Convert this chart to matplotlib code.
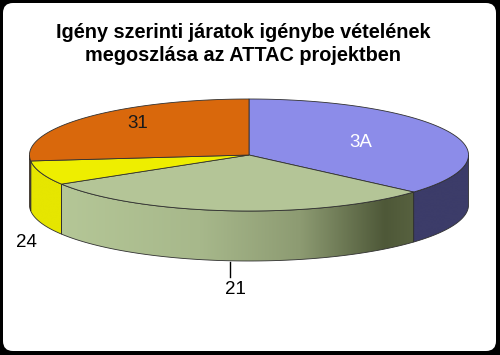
import numpy as np
import matplotlib
matplotlib.use("Agg")
import matplotlib.pyplot as plt
from matplotlib.patches import Polygon, FancyBboxPatch
from matplotlib.colors import to_rgb

# ---- data ----
categories = ["3A", "21", "24", "31"]
values = [36.5, 29.8, 7.0, 26.7]
title = "Igény szerinti járatok igénybe vételének\nmegoszlása az ATTAC projektben"

# ---- style ----
top_colors = ["#8C8CE9", "#B4C597", "#EEEE00", "#D9680C"]
side_stops = [
    [(0, "#3C3C69"), (500, "#3C3C69")],
    [(58, "#B5C797"), (200, "#A7B88B"), (300, "#8D9B72"), (385, "#4E5838"), (413, "#57613F")],
    [(0, "#E6E600"), (500, "#E6E600")],
    [(0, "#B85A0A"), (500, "#B85A0A")],
]
label_colors = ["white", "black", "black", "#1a1a1a"]
label_r = [0.56, None, 1.07, 0.68]
label_off = [0, None, 68, -6]

W, H = 500, 355
fig = plt.figure(figsize=(W / 100, H / 100), dpi=100)
fig.patch.set_facecolor("black")
ax = fig.add_axes([0, 0, 1, 1])
ax.set_xlim(0, W)
ax.set_ylim(H, 0)
ax.axis("off")

ax.add_patch(FancyBboxPatch((3 + 10, 3 + 10), 493 - 20, 348 - 20,
                            boxstyle="round,pad=10", fc="white", ec="none", zorder=0))

plt.rcParams["font.family"] = ["Liberation Sans", "DejaVu Sans"]
ax.text(243, 44, title, ha="center", va="center", fontsize=14.3, fontweight="bold",
        linespacing=1.22, color="black", zorder=5)

cx, cy, a, b, d = 249, 155, 219.5, 56, 50


def pt(t, dy=0.0):
    r = np.radians(t)
    return cx + a * np.cos(r), cy - b * np.sin(r) + dy


def color_at(stops, x):
    xs = [s[0] for s in stops]
    cols = np.array([to_rgb(s[1]) for s in stops])
    return np.stack([np.interp(x, xs, cols[:, k]) for k in range(3)], axis=-1)


total = sum(values)
spans = [v / total * 360 for v in values]
starts = 90 - np.concatenate([[0], np.cumsum(spans)[:-1]])
ends = starts - np.array(spans)
edge = "#303030"

# sides (front-facing part: angles in (-180, 0))
for i in range(len(values)):
    ranges = []
    for shift in (0, 360):
        lo, hi = ends[i] + shift, starts[i] + shift
        lo, hi = max(lo, -180), min(hi, 0)
        if hi > lo:
            ranges.append((lo, hi))
    for (lo, hi) in ranges:
        tt = np.linspace(lo, hi, 200)
        top = [pt(t) for t in tt]
        bot = [pt(t, d) for t in tt[::-1]]
        poly = Polygon(top + bot, closed=True, fc="none", ec="none", zorder=1)
        ax.add_patch(poly)
        xs = np.array([p[0] for p in top])
        x0, x1 = xs.min() - 1, xs.max() + 1
        ys = [p[1] for p in top + bot]
        y0, y1 = min(ys) - 1, max(ys) + 1
        gx = np.linspace(x0, x1, 400)
        img = color_at(side_stops[i], gx)[None, :, :]
        im = ax.imshow(img, extent=(x0, x1, y1, y0), aspect="auto", interpolation="bilinear", zorder=1)
        im.set_clip_path(poly)
        ax.add_patch(Polygon(top + bot, closed=True, fc="none", ec=edge, lw=0.6, zorder=2))

ax.set_xlim(0, W)
ax.set_ylim(H, 0)

# top faces
for i in range(len(values)):
    tt = np.linspace(starts[i], ends[i], 300)
    verts = [(cx, cy)] + [pt(t) for t in tt]
    ax.add_patch(Polygon(verts, closed=True, fc=top_colors[i], ec=edge, lw=0.6, zorder=3))

# labels
for i, lab in enumerate(categories):
    m = (starts[i] + ends[i]) / 2
    r = np.radians(m)
    if label_r[i] is not None:
        x = cx + a * label_r[i] * np.cos(r)
        y = cy - b * label_r[i] * np.sin(r) + label_off[i]
        ax.text(x, y, lab, ha="center", va="center", fontsize=13.5, color=label_colors[i], zorder=6)
    else:
        x0, y0 = pt(m, d)
        ax.plot([x0, x0], [y0 + 1, y0 + 16], color="black", lw=1, zorder=6)
        ax.text(x0 + 6, y0 + 29, lab, ha="center", va="center", fontsize=13.5,
                color=label_colors[i], zorder=6)

fig.savefig("out.png", dpi=100, facecolor="black")
